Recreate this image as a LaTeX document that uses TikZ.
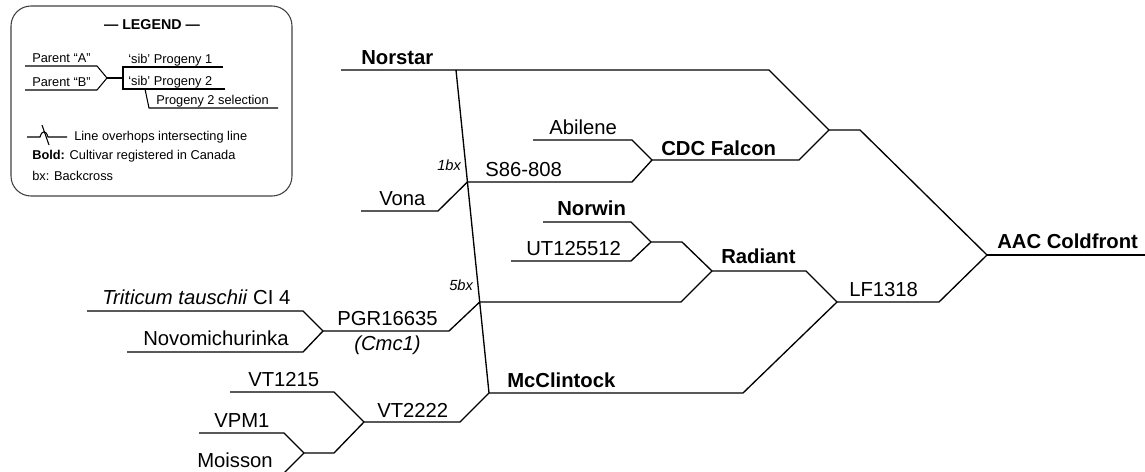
\documentclass[tikz,border=0pt]{standalone}
\usepackage{fontspec}
\setmainfont{Liberation Sans}
\begin{document}
\begin{tikzpicture}[x=0.75pt,y=-0.75pt,
  ped/.style={line width=1pt, line join=miter},
  legl/.style={line width=0.8pt},
  lbl/.style={inner sep=0pt, anchor=base west, font=\fontsize{15.2}{18}\selectfont},
  blbl/.style={inner sep=0pt, anchor=base west, font=\fontsize{15.2}{18}\selectfont\bfseries},
  bxl/.style={inner sep=0pt, anchor=base west, font=\fontsize{11}{13}\selectfont\itshape},
  legt/.style={inner sep=0pt, anchor=base west, font=\fontsize{9.6}{11.5}\selectfont},
  legbox/.style={draw=black!75, line width=0.8pt, rounded corners=15pt}
]
\useasboundingbox (0,0) rectangle (1145,471);

% ---------------- legend ----------------
\draw[legbox] (11,6) rectangle (292,196);
\node[inner sep=0pt, anchor=base, font=\fontsize{10.7}{12.5}\selectfont\bfseries] (legtitle) at (152,29) {— LEGEND —};
\node[legt] (pa) at (32,62) {Parent “A”};
\node[legt] (pb) at (32,86) {Parent “B”};
\node[legt] (s1) at (128,63) {‘sib’ Progeny 1};
\node[legt] (s2) at (128,85) {‘sib’ Progeny 2};
\node[legt] (s3) at (156,104) {Progeny 2 selection};
\node[legt] (oh) at (74,140) {Line overhops intersecting line};
\node[legt] (bd) at (32,159) {\textbf{Bold:} Cultivar registered in Canada};
\node[legt] (bx) at (32,180) {bx: Backcross};

\coordinate (lj) at (107,78);
\coordinate (ls) at (123,78);
\draw[legl] (25,66) -- (97,66) -- (lj);
\draw[legl] (25,90) -- (97,90) -- (lj);
\draw[legl] (lj) -- (ls);
\draw[legl] (223,67) -- (123,67) -- (123,89) -- (225,89);
\draw[legl] (145,89) -- (149,108) -- (278,108);
\draw[legl] (27,137) -- (40,137) .. controls (42,130) and (46,130) .. (48,137) -- (67,137);
\draw[legl] (42,125) -- (49,145);

% ---------------- junction coordinates ----------------
\coordinate (nsT) at (456,70);
\coordinate (jS86) at (467.4,182);
\coordinate (j5bx) at (479.7,302);
\coordinate (jMc) at (489,393);
\coordinate (jCF) at (652,160);
\coordinate (jA) at (829,130);
\coordinate (jF) at (987,255);
\coordinate (jNU) at (651,242);
\coordinate (jRad) at (712,271);
\coordinate (jLF) at (837,302);
\coordinate (jPG) at (323,331);
\coordinate (jVT) at (364,422);
\coordinate (jVM) at (304,453);
\coordinate (endAAC) at (1145,255);

% ---------------- labels ----------------
\node[blbl] (norstar) at (361,64) {Norstar};
\node[lbl] (abilene) at (549,134) {Abilene};
\node[lbl] (s86) at (485,176) {S86-808};
\node[lbl] (vona) at (379,205) {Vona};
\node[blbl] (cdc) at (661,155) {CDC Falcon};
\node[blbl] (norwin) at (557,215) {Norwin};
\node[lbl] (ut) at (526,255) {UT125512};
\node[blbl] (radiant) at (721,263) {Radiant};
\node[lbl] (lf) at (849,296) {LF1318};
\node[blbl] (aac) at (997,248) {AAC Coldfront};
\node[blbl] (mcc) at (507,387) {McClintock};
\node[bxl] (bx1) at (437,170) {1bx};
\node[bxl] (bx5) at (449,290) {5bx};
\node[lbl] (tt) at (102,304) {\textit{Triticum tauschii} CI 4};
\node[lbl] (novo) at (143,345) {Novomichurinka};
\node[lbl, anchor=base] (pgr) at (387.5,325) {PGR16635};
\node[lbl, anchor=base, font=\fontsize{15.2}{18}\selectfont\itshape] (cmc) at (387.5,350) {(Cmc1)};
\node[lbl] (vt1215) at (248,386) {VT1215};
\node[lbl] (vt2222) at (377,417) {VT2222};
\node[lbl] (vpm1) at (214,427) {VPM1};
\node[lbl] (moisson) at (197,467) {Moisson};

% ---------------- pedigree lines ----------------
\draw[ped] (341,70) -- (769,70) -- (jA);
\draw[ped] (jA) -- (860,130) -- (jF);
\draw[ped] (jF) -- (endAAC);
\draw[ped] (nsT) -- (jMc);
\draw[ped] (361,211) -- (438,211) -- (jS86);
\draw[ped] (jS86) -- (632,182) -- (jCF);
\draw[ped] (533,140) -- (632,140) -- (jCF);
\draw[ped] (jCF) -- (799,160) -- (jA);
\draw[ped] (543,222) -- (631,222) -- (jNU);
\draw[ped] (511,261) -- (631,261) -- (jNU);
\draw[ped] (jNU) -- (682,242) -- (jRad);
\draw[ped] (j5bx) -- (681,302) -- (jRad);
\draw[ped] (jRad) -- (806,271) -- (jLF);
\draw[ped] (jLF) -- (939,302) -- (jF);
\draw[ped] (jMc) -- (743,393) -- (jLF);
\draw[ped] (jVT) -- (460,422) -- (jMc);
\draw[ped] (230,392) -- (334,392) -- (jVT);
\draw[ped] (jVM) -- (334,453) -- (jVT);
\draw[ped] (199,433) -- (284,433) -- (jVM);
\draw[ped] (199,473) -- (284,473) -- (jVM);
\draw[ped] (87,311) -- (303,311) -- (jPG);
\draw[ped] (127,352) -- (303,352) -- (jPG);
\draw[ped] (jPG) -- (449,331) -- (j5bx);
\end{tikzpicture}
\end{document}
